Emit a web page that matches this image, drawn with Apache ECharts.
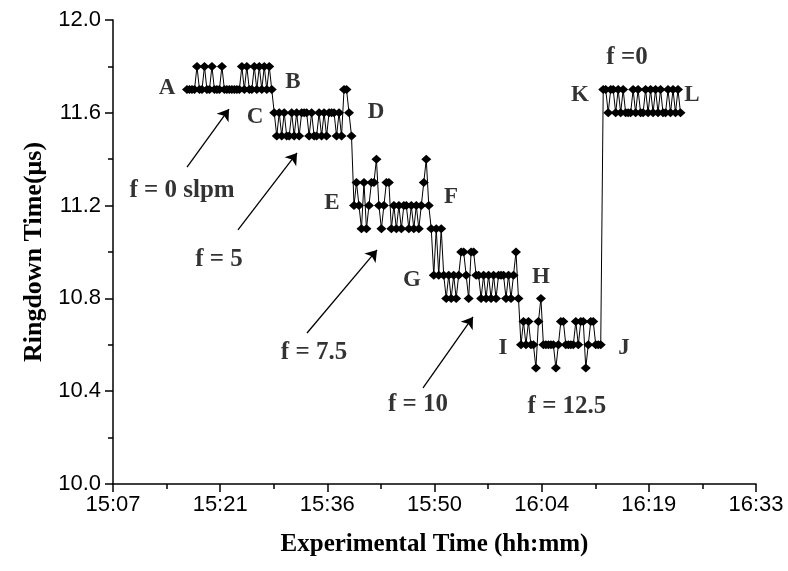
<!DOCTYPE html>
<html>
<head>
<meta charset="utf-8">
<script src="https://cdn.jsdelivr.net/npm/echarts@6/dist/echarts.min.js"></script>
<style>
  html, body { margin: 0; padding: 0; background: #fff; }
  #chart { width: 788px; height: 571px; }
</style>
</head>
<body>
<div id="chart"></div>
<script>
// Time axis: seconds after 15:07:00, ticks every 860 s
const tickLabels = ['15:07', '15:21', '15:36', '15:50', '16:04', '16:19', '16:33'];

// Sample times (s after 15:07:00)
const sampleSec = [
  594, 614, 634, 654, 674, 694, 714, 734, 754, 774,
  794, 814, 834, 854, 874, 894, 914, 934, 954, 974,
  994, 1014, 1034, 1054, 1074, 1094, 1114, 1134, 1154, 1174,
  1194, 1214, 1234, 1254, 1274, 1294, 1314, 1334, 1354, 1374,
  1394, 1414, 1434, 1454, 1474, 1494, 1514, 1534, 1554, 1574,
  1594, 1614, 1634, 1654, 1674, 1694, 1714, 1734, 1754, 1774,
  1794, 1814, 1834, 1854, 1874, 1894, 1914, 1934, 1954, 1974,
  1994, 2014, 2034, 2054, 2074, 2094, 2114, 2134, 2154, 2174,
  2194, 2214, 2234, 2254, 2274, 2294, 2314, 2334, 2354, 2374,
  2394, 2414, 2434, 2454, 2474, 2494, 2514, 2534, 2554, 2574,
  2594, 2614, 2634, 2654, 2674, 2694, 2714, 2734, 2754, 2774,
  2794, 2814, 2834, 2854, 2874, 2894, 2914, 2934, 2954, 2974,
  2994, 3014, 3034, 3054, 3074, 3094, 3114, 3134, 3154, 3174,
  3194, 3214, 3234, 3254, 3274, 3294, 3314, 3334, 3354, 3374,
  3394, 3414, 3434, 3454, 3474, 3494, 3514, 3534, 3554, 3574,
  3594, 3614, 3634, 3654, 3674, 3694, 3714, 3734, 3754, 3774,
  3794, 3814, 3834, 3854, 3874, 3894, 3914, 3934, 3954, 3974,
  3994, 4014, 4034, 4054, 4074, 4094, 4114, 4134, 4154, 4174,
  4194, 4214, 4234, 4254, 4274, 4294, 4314, 4334, 4354, 4374,
  4394, 4414, 4434, 4454, 4474, 4494, 4514, 4534, 4554
];

// Ringdown time (µs) for each flow step
const ringAB = [ // f = 0 slpm
  11.7, 11.7, 11.7, 11.7, 11.8, 11.7, 11.7, 11.8, 11.7, 11.7,
  11.8, 11.7, 11.7, 11.7, 11.8, 11.7, 11.7, 11.7, 11.7, 11.7,
  11.7, 11.7, 11.8, 11.7, 11.8, 11.7, 11.7, 11.8, 11.7, 11.8,
  11.7, 11.8, 11.7, 11.8, 11.7
];
const ringCD = [ // f = 5
  11.6, 11.5, 11.6, 11.5, 11.6, 11.5, 11.5, 11.6, 11.5, 11.6,
  11.5, 11.6, 11.6, 11.6, 11.5, 11.6, 11.5, 11.5, 11.6, 11.5,
  11.6, 11.5, 11.6, 11.6, 11.6, 11.5, 11.6, 11.5, 11.7, 11.7,
  11.6, 11.5
];
const ringEF = [ // f = 7.5
  11.2, 11.3, 11.2, 11.1, 11.3, 11.1, 11.2, 11.3, 11.3, 11.4,
  11.2, 11.1, 11.2, 11.3, 11.3, 11.1, 11.2, 11.1, 11.2, 11.1,
  11.2, 11.2, 11.1, 11.2, 11.1, 11.2, 11.1, 11.2, 11.3, 11.4,
  11.2, 11.1, 10.9, 11.1, 10.9, 11.1
];
const ringGH = [ // f = 10
  10.9, 10.8, 10.9, 10.8, 10.9, 10.8, 10.9, 11.0, 11.0, 10.9,
  10.8, 11.0, 11.0, 10.9, 10.9, 10.8, 10.9, 10.8, 10.9, 10.8,
  10.9, 10.8, 10.9, 10.9, 10.9, 10.8, 10.9, 10.8, 10.9, 11.0,
  10.8
];
const ringIJ = [ // f = 12.5
  10.6, 10.7, 10.6, 10.7, 10.6, 10.6, 10.5, 10.7, 10.8, 10.6,
  10.6, 10.6, 10.6, 10.6, 10.5, 10.6, 10.7, 10.7, 10.6, 10.6,
  10.6, 10.6, 10.7, 10.6, 10.7, 10.7, 10.5, 10.6, 10.7, 10.7,
  10.6, 10.6, 10.6
];
const ringKL = [ // f = 0
  11.7, 11.7, 11.6, 11.7, 11.7, 11.6, 11.7, 11.6, 11.7, 11.6,
  11.6, 11.6, 11.7, 11.6, 11.7, 11.6, 11.6, 11.7, 11.6, 11.7,
  11.6, 11.7, 11.6, 11.7, 11.6, 11.6, 11.7, 11.6, 11.7, 11.6,
  11.7, 11.6
];

// Annotation letters [text, seconds, µs]
const pointLetters = [
  ['A', 433, 11.707], ['B', 1444, 11.733], ['C', 1139, 11.582], ['D', 2110, 11.603],
  ['E', 1757, 11.211], ['F', 2713, 11.237], ['G', 2399, 10.879], ['H', 3434, 10.892],
  ['I', 3130, 10.586], ['J', 4100, 10.586], ['K', 3748, 11.677], ['L', 4646, 11.677]
];
// Flow-rate notes [text, seconds, µs]
const flowNotes = [
  ['f = 0 slpm', 554, 11.267], ['f = 5', 851, 10.966], ['f = 7.5', 1613, 10.565],
  ['f = 10', 2448, 10.341], ['f = 12.5', 3643, 10.336], ['f =0', 4125, 11.84]
];
// Arrows [tailSec, tailVal, headSec, headVal]
const flowArrows = [
  [594, 11.366, 931, 11.616],
  [1003, 11.095, 1477, 11.427],
  [1557, 10.651, 2119, 11.009],
  [2488, 10.414, 2889, 10.720]
];

const ringValues = [].concat(ringAB, ringCD, ringEF, ringGH, ringIJ, ringKL);
const seriesData = sampleSec.map((t, i) => [t, ringValues[i]]);

const serif = 'Liberation Serif, Times New Roman, serif';
const sans = 'Liberation Sans, Arial, sans-serif';

const chart = echarts.init(document.getElementById('chart'), null, { renderer: 'canvas' });
chart.setOption({
  animation: false,
  backgroundColor: '#fff',
  grid: { left: 113, right: 32, top: 20, bottom: 87 },
  xAxis: {
    type: 'value',
    min: 0, max: 5160, interval: 860,
    name: 'Experimental Time (hh:mm)',
    nameLocation: 'middle',
    nameGap: 48,
    nameTextStyle: { fontFamily: serif, fontWeight: 'bold', fontSize: 25, color: '#000' },
    axisLine: { lineStyle: { color: '#000', width: 1.5 } },
    axisTick: { inside: false, length: 8, lineStyle: { color: '#000', width: 1.5 } },
    minorTick: { show: true, splitNumber: 2, length: 5, lineStyle: { color: '#000', width: 1.5 } },
    splitLine: { show: false },
    axisLabel: {
      margin: 10, color: '#000', fontFamily: sans, fontSize: 22,
      formatter: v => tickLabels[Math.round(v / 860)]
    }
  },
  yAxis: {
    type: 'value',
    min: 10, max: 12, interval: 0.4,
    name: 'Ringdown Time(μs)',
    nameLocation: 'middle',
    nameRotate: 90,
    nameGap: 66,
    nameTextStyle: { fontFamily: serif, fontWeight: 'bold', fontSize: 26, color: '#000' },
    axisLine: { show: true, lineStyle: { color: '#000', width: 1.5 } },
    axisTick: { show: true, inside: false, length: 8, lineStyle: { color: '#000', width: 1.5 } },
    minorTick: { show: true, splitNumber: 2, length: 5, lineStyle: { color: '#000', width: 1.5 } },
    splitLine: { show: false },
    axisLabel: {
      margin: 12, color: '#000', fontFamily: sans, fontSize: 22,
      formatter: v => v.toFixed(1)
    }
  },
  series: [
    {
      type: 'line',
      data: seriesData,
      symbol: 'diamond',
      symbolSize: [10, 9],
      showAllSymbol: true,
      lineStyle: { color: '#000', width: 1 },
      itemStyle: { color: '#000' },
      silent: true,
      markLine: {
        silent: true,
        symbol: ['none', 'arrow'],
        symbolSize: 11,
        label: { show: false },
        lineStyle: { color: '#000', width: 1.3, type: 'solid' },
        data: flowArrows.map(a => [{ coord: [a[0], a[1]] }, { coord: [a[2], a[3]] }])
      }
    },
    {
      type: 'scatter',
      silent: true,
      symbolSize: 1,
      itemStyle: { color: 'rgba(0,0,0,0)' },
      data: pointLetters.map(p => [p[1], p[2], p[0]]),
      label: {
        show: true, position: 'inside', color: '#000',
        fontFamily: serif, fontWeight: 'bold', fontSize: 23,
        formatter: p => p.data[2]
      }
    },
    {
      type: 'scatter',
      silent: true,
      symbolSize: 1,
      itemStyle: { color: 'rgba(0,0,0,0)' },
      data: flowNotes.map(p => [p[1], p[2], p[0]]),
      label: {
        show: true, position: 'inside', color: '#000',
        fontFamily: serif, fontWeight: 'bold', fontSize: 25,
        formatter: p => p.data[2]
      }
    }
  ]
});
</script>
</body>
</html>
